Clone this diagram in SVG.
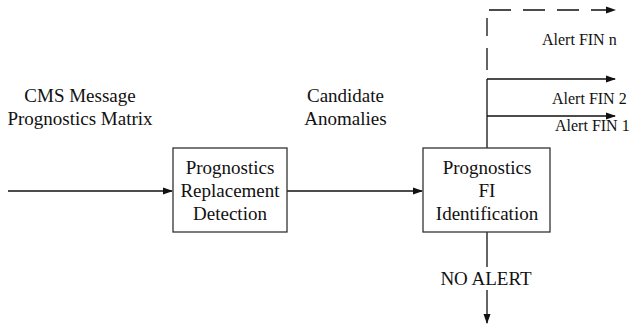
<svg xmlns="http://www.w3.org/2000/svg" width="633" height="324" viewBox="0 0 633 324">
<style>
text{font-family:'Liberation Serif','DejaVu Serif','Times New Roman',serif;fill:#111;}
.t{font-size:19px;text-anchor:middle;}
.s{font-size:16px;}
.box{fill:#fff;stroke:#333;stroke-width:1.3;}
.ln{stroke:#111;stroke-width:1.3;fill:none;}
.da{stroke-dasharray:22 12;}
</style>
<defs>
<marker id="ah" markerWidth="10" markerHeight="8" refX="9" refY="4" orient="auto" markerUnits="userSpaceOnUse">
<path d="M0,0.5 L10,4 L0,7.5 Z" fill="#111"/>
</marker>
</defs>
<rect width="633" height="324" fill="#fff"/>
<g id="connectors">
<line class="ln" x1="8" y1="191" x2="172" y2="191" marker-end="url(#ah)"/>
<line class="ln" x1="287" y1="191" x2="422" y2="191" marker-end="url(#ah)"/>
<line class="ln" x1="487" y1="148" x2="487" y2="79"/>
<line class="ln" x1="487" y1="79" x2="615" y2="79" marker-end="url(#ah)"/>
<line class="ln" x1="487" y1="116" x2="615" y2="116" marker-end="url(#ah)"/>
<line class="ln da" x1="487" y1="70" x2="487" y2="18"/>
<line class="ln da" x1="489" y1="10" x2="615" y2="10" marker-end="url(#ah)"/>
<line class="ln" x1="487" y1="232" x2="487" y2="267"/>
<line class="ln" x1="487" y1="290" x2="487" y2="323" marker-end="url(#ah)"/>
</g>
<g id="label-input">
<text class="t" x="80" y="101.5" font-family="Liberation Serif, serif">CMS Message</text>
<text class="t" x="80" y="124.5" font-family="Liberation Serif, serif">Prognostics Matrix</text>
</g>
<g id="label-candidate">
<text class="t" x="345.5" y="101.5">Candidate</text>
<text class="t" x="345.5" y="124.5">Anomalies</text>
</g>
<g id="node-replacement">
<rect class="box" x="173" y="148" width="114" height="84"/>
<text class="t" x="230" y="174">Prognostics</text>
<text class="t" x="230" y="197">Replacement</text>
<text class="t" x="230" y="220">Detection</text>
</g>
<g id="node-fi">
<rect class="box" x="423" y="148" width="127" height="84"/>
<text class="t" x="487" y="174">Prognostics</text>
<text class="t" x="487" y="197">FI</text>
<text class="t" x="487" y="220">Identification</text>
</g>
<g id="labels-alert">
<text class="s" x="542" y="45">Alert FIN n</text>
<text class="s" x="552" y="103.5">Alert FIN 2</text>
<text class="s" x="555" y="131">Alert FIN 1</text>
<text class="t" x="486" y="285">NO ALERT</text>
</g>
</svg>
